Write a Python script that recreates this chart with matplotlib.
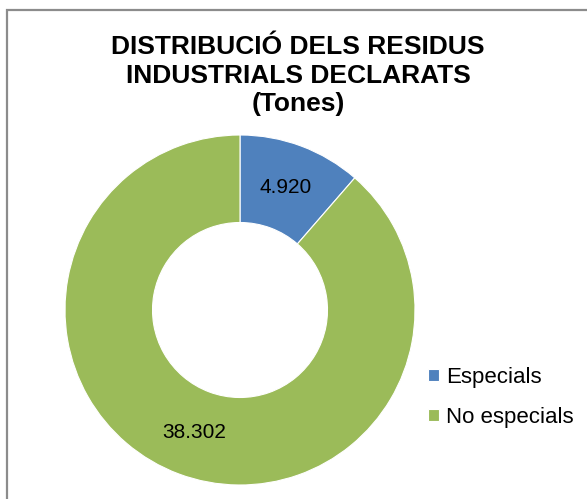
import numpy as np
import matplotlib.pyplot as plt
from matplotlib.patches import Rectangle

# ----- dades -----
categories = ['Especials', 'No especials']
valors = [4920, 38302]
etiquetes = ['4.920', '38.302']
colors = ['#4F81BD', '#9BBB59']

plt.rcParams['font.family'] = ['Liberation Sans', 'DejaVu Sans']

W, H = 587, 499
fig = plt.figure(figsize=(W / 100, H / 100), dpi=100)

# marc gris del gràfic
fig.patches.append(Rectangle((7 / W, -0.1), 1.2, 1 - 10 / H + 0.1,
                             transform=fig.transFigure, fill=False,
                             edgecolor='#8c8c8c', linewidth=1.6))

# donut: centre (240, 310), radi 175 px
cx, cy, R = 240, 310, 175
ax = fig.add_axes([(cx - R) / W, 1 - (cy + R) / H, 2 * R / W, 2 * R / H])
wedges, textos = ax.pie(valors, colors=colors, startangle=90, counterclock=False,
                        labels=etiquetes, labeldistance=0.75,
                        wedgeprops=dict(width=0.5, edgecolor='white', linewidth=0.8),
                        textprops=dict(fontsize=15, color='black', ha='center', va='center'))
ax.set_xlim(-1, 1)
ax.set_ylim(-1, 1)
ax.set_aspect('equal')

# títol
fig.text(298 / W, 1 - 35 / H,
         'DISTRIBUCIÓ DELS RESIDUS\nINDUSTRIALS DECLARATS\n(Tones)',
         ha='center', va='top', fontsize=19, fontweight='bold', linespacing=1.25)

# llegenda
fig.legend(wedges, categories, loc='upper left',
           bbox_to_anchor=(428 / W, 1 - 367 / H), frameon=False,
           fontsize=16, handlelength=0.5, handleheight=0.5,
           handletextpad=0.3, labelspacing=0.85, borderpad=0, borderaxespad=0)

fig.savefig('out.png', dpi=100)
